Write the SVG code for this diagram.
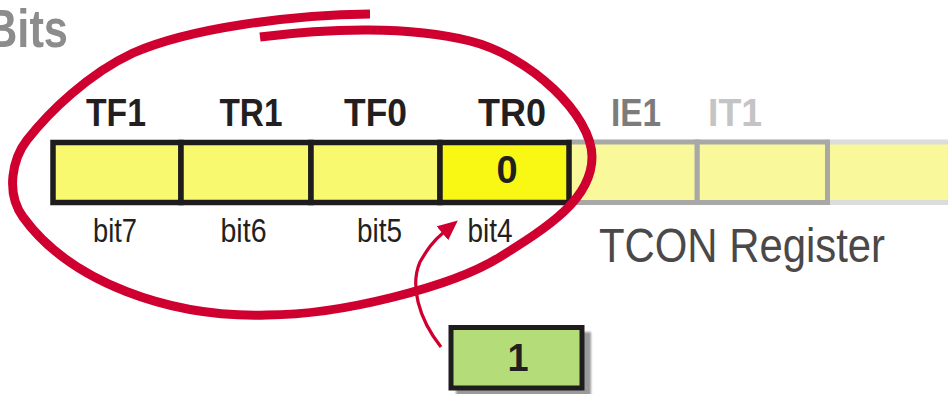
<svg xmlns="http://www.w3.org/2000/svg" width="948" height="394" viewBox="0 0 948 394">
  <defs>
    <style>
      .lbl { font-family: "Liberation Sans", Arial, sans-serif; font-weight: bold; font-size: 39px; text-anchor: middle; fill: #231f20; }
      .bit { font-family: "Liberation Sans", Arial, sans-serif; font-size: 33px; text-anchor: middle; fill: #231f20; }
      .val { font-family: "Liberation Sans", Arial, sans-serif; font-weight: bold; font-size: 38px; text-anchor: middle; fill: #231f20; }
      .cell { fill: #f9f970; stroke: #1e1c1c; stroke-width: 5.5; }
      .cell-off { fill: #f9f99c; stroke: #a8a8a8; stroke-width: 5; }
      .ring { fill: none; stroke: #cf0030; stroke-width: 9; stroke-linecap: butt; stroke-linejoin: round; }
      .link { fill: none; stroke: #cf0030; stroke-width: 3.2; }
    </style>
    <marker id="head" viewBox="0 0 20 18" refX="2" refY="9" markerWidth="20" markerHeight="18" markerUnits="userSpaceOnUse" orient="auto">
      <path d="M0,0 L20,9 L0,18 z" fill="#cf0030"/>
    </marker>
    <filter id="soft" x="-10%" y="-10%" width="130%" height="130%">
      <feGaussianBlur stdDeviation="1.2"/>
    </filter>
  </defs>

  <!-- heading, clipped at the left edge -->
  <text x="-14" y="47" textLength="82" lengthAdjust="spacingAndGlyphs" font-family="Liberation Sans, Arial, sans-serif" font-weight="bold" font-size="54" fill="#8c8c8c">Bits</text>

  <!-- remaining register cells (dimmed) -->
  <g id="reg-rest">
    <rect x="827.5" y="142" width="130" height="60.5" fill="#f9f99c" stroke="#dcdcdc" stroke-width="5"/>
    <rect id="cell-it1" x="697" y="142" width="130.5" height="60.5" class="cell-off"/>
    <rect id="cell-ie1" x="569" y="142" width="128" height="60.5" class="cell-off"/>
  </g>

  <!-- timer bits -->
  <g id="bit-tf1">
    <rect x="53" y="142.5" width="128" height="60" class="cell"/>
    <text class="lbl" x="116" y="126" textLength="60" lengthAdjust="spacingAndGlyphs">TF1</text>
    <text class="bit" x="115" y="242" textLength="44" lengthAdjust="spacingAndGlyphs">bit7</text>
  </g>
  <g id="bit-tr1">
    <rect x="181" y="142.5" width="130" height="60" class="cell"/>
    <text class="lbl" x="251" y="126" textLength="63" lengthAdjust="spacingAndGlyphs">TR1</text>
    <text class="bit" x="243.5" y="242" textLength="46" lengthAdjust="spacingAndGlyphs">bit6</text>
  </g>
  <g id="bit-tf0">
    <rect x="311" y="142.5" width="129" height="60" class="cell"/>
    <text class="lbl" x="375.5" y="126" textLength="63" lengthAdjust="spacingAndGlyphs">TF0</text>
    <text class="bit" x="379.5" y="242" textLength="45" lengthAdjust="spacingAndGlyphs">bit5</text>
  </g>
  <g id="bit-tr0">
    <rect x="440" y="142.5" width="129" height="60" class="cell" style="fill:#f8f814"/>
    <text class="lbl" x="512" y="126" textLength="68" lengthAdjust="spacingAndGlyphs">TR0</text>
    <text class="val" x="507" y="183">0</text>
    <text class="bit" x="490" y="242" textLength="45" lengthAdjust="spacingAndGlyphs">bit4</text>
  </g>

  <!-- dimmed names of the following bits -->
  <g id="names-rest" font-family="Liberation Sans, Arial, sans-serif" font-weight="bold" font-size="39" text-anchor="middle">
    <text x="636" y="126" textLength="50" lengthAdjust="spacingAndGlyphs" fill="#7c7c7c">IE1</text>
    <text x="735" y="126" textLength="54" lengthAdjust="spacingAndGlyphs" fill="#c4c4c4">IT1</text>
  </g>

  <text id="reg-title" x="599" y="262" textLength="286" lengthAdjust="spacingAndGlyphs" font-family="Liberation Sans, Arial, sans-serif" font-size="49" fill="#4a4848">TCON Register</text>

  <!-- value being written -->
  <g id="value-one">
    <rect x="456" y="332" width="135" height="66" fill="#9a9a9a" filter="url(#soft)"/>
    <rect x="451" y="327.5" width="131" height="60.5" fill="#b4dc78" stroke="#1e1c1c" stroke-width="5"/>
    <text class="val" x="518" y="371">1</text>
  </g>

  <!-- hand-drawn ring round the timer bits -->
  <path id="ring" class="ring" d="M260,37 C330,28 410,26 470,41 C530,56 592,115 592,157 C592,199 548,227 500,257 C452,287 340,315 267,315 C170,318 70,282 23,217 C5,192 13,158 27,140 C49,112 88,74 133,53 C190,28 290,15 370,14"/>

  <g id="connectors">
    <path class="link" d="M441,347 C418,318 410,285 420,262 C427,250 432,242 444,232" marker-end="url(#head)"/>
  </g>
</svg>
